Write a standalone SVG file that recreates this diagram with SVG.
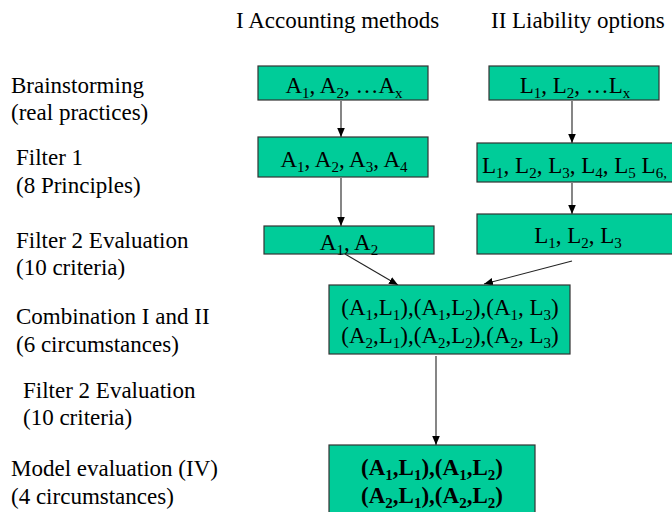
<svg xmlns="http://www.w3.org/2000/svg" width="672" height="512" viewBox="0 0 672 512" font-family="'Liberation Serif', 'Times New Roman', 'DejaVu Serif', serif">
<defs>
<style>
text{font-family:'Liberation Serif','Times New Roman','DejaVu Serif',serif;font-size:23px;fill:#000}
.box{fill:#00CC99;stroke:#333;stroke-width:1.2}
.sub{font-size:15px}
.c{text-anchor:middle}
.b{font-weight:bold}
.ln{stroke:#222;stroke-width:1.1;fill:none;marker-end:url(#ah)}
</style>
<marker id="ah" markerUnits="userSpaceOnUse" markerWidth="10" markerHeight="10" viewBox="0 0 10 10" refX="9" refY="5" orient="auto">
<path d="M0,1.2 L9,5 L0,8.8 Z" fill="#000"/>
</marker>
</defs>
<rect width="672" height="512" fill="#fff"/>

<g id="headings">
<text x="236" y="28">I Accounting methods</text>
<text x="491" y="28">II Liability options</text>
</g>

<g id="labels">
<text x="11" y="93">Brainstorming</text>
<text x="11" y="120">(real practices)</text>
<text x="16" y="165">Filter 1</text>
<text x="16" y="193">(8 Principles)</text>
<text x="16" y="248">Filter 2 Evaluation</text>
<text x="16" y="275">(10 criteria)</text>
<text x="16" y="324">Combination I and II</text>
<text x="16" y="352">(6 circumstances)</text>
<text x="23" y="398">Filter 2 Evaluation</text>
<text x="23" y="425">(10 criteria)</text>
<text x="11" y="476">Model evaluation (IV)</text>
<text x="11" y="504">(4 circumstances)</text>
</g>

<g id="connectors">
<line class="ln" x1="341" y1="101" x2="341" y2="137"/>
<line class="ln" x1="341" y1="178" x2="341" y2="226"/>
<line class="ln" x1="572" y1="101" x2="572" y2="143"/>
<line class="ln" x1="572" y1="183" x2="572" y2="214"/>
<line class="ln" x1="345" y1="254" x2="398" y2="285"/>
<line class="ln" x1="572" y1="261" x2="484" y2="284"/>
<line class="ln" x1="436" y1="356" x2="436" y2="445"/>
</g>

<g id="a1">
<rect class="box" x="258" y="66" width="170" height="34"/>
<text class="c" x="344" y="93">A<tspan class="sub" dy="5">1</tspan><tspan dy="-5">, A</tspan><tspan class="sub" dy="5">2</tspan><tspan dy="-5">, …A</tspan><tspan class="sub" dy="5">x</tspan></text>
</g>

<g id="l1">
<rect class="box" x="489" y="66" width="170" height="34"/>
<text class="c" x="575" y="93">L<tspan class="sub" dy="5">1</tspan><tspan dy="-5">, L</tspan><tspan class="sub" dy="5">2</tspan><tspan dy="-5">, …L</tspan><tspan class="sub" dy="5">x</tspan></text>
</g>

<g id="a2">
<rect class="box" x="258" y="137" width="170" height="40"/>
<text class="c" x="344" y="167">A<tspan class="sub" dy="5">1</tspan><tspan dy="-5">, A</tspan><tspan class="sub" dy="5">2</tspan><tspan dy="-5">, A</tspan><tspan class="sub" dy="5">3</tspan><tspan dy="-5">, A</tspan><tspan class="sub" dy="5">4</tspan></text>
</g>

<g id="l2">
<rect class="box" x="477" y="143" width="210" height="39"/>
<text x="482" y="173">L<tspan class="sub" dy="5">1</tspan><tspan dy="-5">, L</tspan><tspan class="sub" dy="5">2</tspan><tspan dy="-5">, L</tspan><tspan class="sub" dy="5">3</tspan><tspan dy="-5">, L</tspan><tspan class="sub" dy="5">4</tspan><tspan dy="-5">, L</tspan><tspan class="sub" dy="5">5</tspan><tspan dy="-5"> L</tspan><tspan class="sub" dy="5">6,</tspan></text>
</g>

<g id="a3">
<rect class="box" x="264" y="226" width="170" height="28"/>
<text class="c" x="349" y="250">A<tspan class="sub" dy="5">1</tspan><tspan dy="-5">, A</tspan><tspan class="sub" dy="5">2</tspan></text>
</g>

<g id="l3">
<rect class="box" x="477" y="214" width="210" height="40"/>
<text class="c" x="578" y="243">L<tspan class="sub" dy="5">1</tspan><tspan dy="-5">, L</tspan><tspan class="sub" dy="5">2</tspan><tspan dy="-5">, L</tspan><tspan class="sub" dy="5">3</tspan></text>
</g>

<g id="comb">
<rect class="box" x="329" y="285" width="241" height="69"/>
<text class="c" x="450" y="315">(A<tspan class="sub" dy="5">1</tspan><tspan dy="-5">,L</tspan><tspan class="sub" dy="5">1</tspan><tspan dy="-5">),(A</tspan><tspan class="sub" dy="5">1</tspan><tspan dy="-5">,L</tspan><tspan class="sub" dy="5">2</tspan><tspan dy="-5">),(A</tspan><tspan class="sub" dy="5">1</tspan><tspan dy="-5">, L</tspan><tspan class="sub" dy="5">3</tspan><tspan dy="-5">)</tspan></text>
<text class="c" x="450" y="343">(A<tspan class="sub" dy="5">2</tspan><tspan dy="-5">,L</tspan><tspan class="sub" dy="5">1</tspan><tspan dy="-5">),(A</tspan><tspan class="sub" dy="5">2</tspan><tspan dy="-5">,L</tspan><tspan class="sub" dy="5">2</tspan><tspan dy="-5">),(A</tspan><tspan class="sub" dy="5">2</tspan><tspan dy="-5">, L</tspan><tspan class="sub" dy="5">3</tspan><tspan dy="-5">)</tspan></text>
</g>

<g id="model">
<rect class="box" x="329" y="445" width="206" height="75"/>
<text class="c b" x="432" y="475">(A<tspan class="sub" dy="5">1</tspan><tspan dy="-5">,L</tspan><tspan class="sub" dy="5">1</tspan><tspan dy="-5">),(A</tspan><tspan class="sub" dy="5">1</tspan><tspan dy="-5">,L</tspan><tspan class="sub" dy="5">2</tspan><tspan dy="-5">)</tspan></text>
<text class="c b" x="432" y="503">(A<tspan class="sub" dy="5">2</tspan><tspan dy="-5">,L</tspan><tspan class="sub" dy="5">1</tspan><tspan dy="-5">),(A</tspan><tspan class="sub" dy="5">2</tspan><tspan dy="-5">,L</tspan><tspan class="sub" dy="5">2</tspan><tspan dy="-5">)</tspan></text>
</g>
</svg>
